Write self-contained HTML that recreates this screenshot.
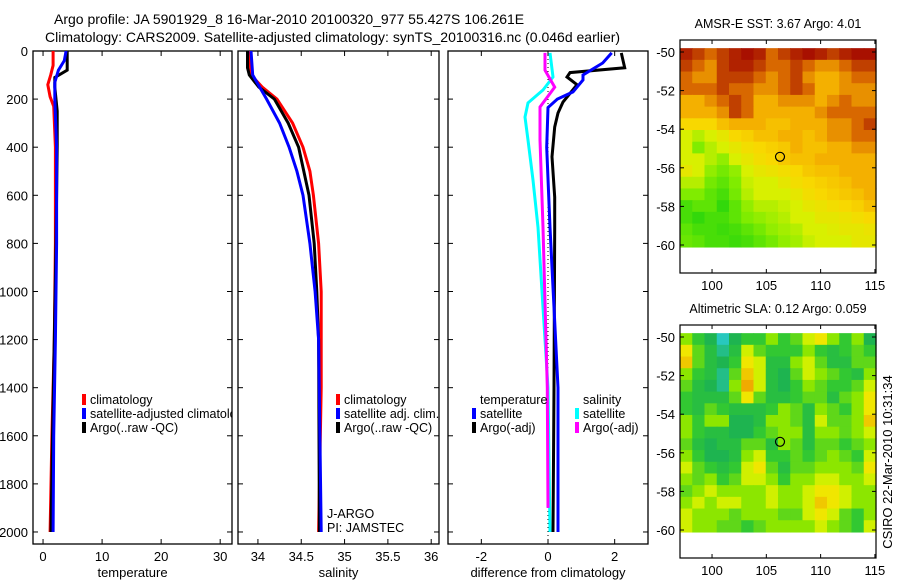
<!DOCTYPE html>
<html><head><meta charset="utf-8"><style>
body{margin:0;background:#fff;width:900px;height:580px;overflow:hidden}
svg{display:block;font-family:"Liberation Sans",sans-serif}
</style></head><body>
<svg id="c" width="900" height="580" xmlns="http://www.w3.org/2000/svg">
<text x="54" y="24" font-size="14">Argo profile: JA 5901929_8 16-Mar-2010 20100320_977 55.427S 106.261E</text>
<text x="45" y="42" font-size="14">Climatology: CARS2009. Satellite-adjusted climatology: synTS_20100316.nc (0.046d earlier)</text>
<g id="g"></g>
</svg>
<script>
// ---- profile data (depth in m) ----
const tClimDepth=[0,60,100,140,190,230,400,800,1200,1600,2000];
const tClim=[1.7,1.7,1.3,0.8,1.2,1.8,2.1,2.1,1.9,1.5,1.2];
const tSatDepth=[0,40,80,130,200,400,800,1200,1600,2000];
const tSat=[3.9,3.6,2.6,2.0,2.0,2.3,2.3,2.1,1.8,1.7];
const tArgoDepth=[0,80,110,150,250,400,800,1200,1600,2000];
const tArgo=[4.1,4.1,2.0,2.0,2.4,2.4,2.2,1.9,1.6,1.35];
const sClimDepth=[0,100,150,200,300,400,500,600,800,1000,1400,2000];
const sClim=[33.9,33.92,34.05,34.22,34.4,34.52,34.6,34.64,34.7,34.73,34.73,34.7];
const sSatDepth=[0,100,200,300,400,500,600,800,1000,1200,2000];
const sSat=[33.92,33.94,34.1,34.25,34.36,34.45,34.52,34.6,34.66,34.7,34.73];
const sArgoDepth=[0,70,100,150,200,300,400,600,800,1000,1200,2000];
const sArgo=[33.88,33.88,33.9,34.01,34.19,34.35,34.47,34.59,34.65,34.68,34.7,34.71];
const dTSatDepth=[8,50,100,120,170,200,235,400,733,1400,2000];
const dTSat=[1.91,1.64,1.05,1.05,0.75,0.28,0.0,-0.04,0.06,0.3,0.3];
const dTArgoDepth=[8,70,90,108,140,212,258,316,440,608,733,1400,2000];
const dTArgo=[2.2,2.3,0.66,0.57,0.87,0.45,0.3,0.2,0.12,0.2,0.2,0.18,0.15];
const dSSatDepth=[8,108,162,216,275,370,537,733,1400,2000];
const dSSat=[0.06,0.15,-0.15,-0.6,-0.69,-0.6,-0.45,-0.3,0.0,0.06];
const dSArgoDepth=[8,80,150,233,370,733,1400,1900];
const dSArgo=[-0.09,-0.09,0.2,-0.24,-0.24,-0.15,-0.02,0.0];
const depthTicks=[0,200,400,600,800,1000,1200,1400,1600,1800,2000];
const tTicks=[0,10,20,30];
const sTicks=[34,34.5,35,35.5,36];
const dTicks=[-2,0,2];
// ---- map data ----
const lonStart=97.05, lonStep=(115.1-97.05)/16, latStart=-49.8, latStep=-(60.1-49.8)/17;
const latTicks=[-50,-52,-54,-56,-58,-60];
const lonTicks=[100,105,110,115];
const argoLon=106.26, argoLat=-55.43;
const sst=[
[6,5.5,5,5.5,6,6.5,6,5,5.5,6,6.5,6,5.5,6,6.5,6.5],
[5.5,5,4.5,5.5,6,6,5.5,5,5,5.5,5,4.5,4.5,5,5.5,5.5],
[5,4.5,4.5,5.5,5.5,5.5,5,4.5,5,5.5,4.5,4,4,4.5,5,5],
[5,5,5,5.5,5,5,4.5,4.5,5,5.5,5,4,4,4.5,4.5,4.5],
[4,4,4.5,5,5.5,5,4,4,4.5,4.5,4.5,4,4.5,5,4.5,4.5],
[4,4,4,4.5,5.5,5,4,4,4,4,4,4.5,5,5,5,5],
[3.5,3.5,3.5,3.8,4,4,4,3.8,3.8,4,4,4,4.5,4.5,5,5.5],
[3,2.8,3,3.2,3.5,3.6,3.8,3.8,4,4,3.8,4,4.5,4.5,5,5],
[3,2.5,2.8,3,3.2,3.4,3.5,3.6,3.7,4,3.8,3.8,4,4,4.5,4.5],
[3,3,2.8,2.6,3,3.2,3.4,3.5,3.7,3.8,3.8,4,4,4,4,4],
[3.2,3,2.6,2.4,2.6,3,3.2,3.3,3.4,3.5,3.7,3.8,3.8,4,4,4],
[2.8,2.8,2.4,2.2,2.5,2.9,3,3,3.2,3.4,3.5,3.6,3.7,3.8,4,4],
[2.5,2.5,2.2,2,2.4,2.8,3,3,3,3.2,3.4,3.5,3.6,3.7,3.8,4],
[2,2.2,2.2,1.8,2.2,2.6,2.8,2.8,2.9,3,3.2,3.3,3.4,3.5,3.6,3.8],
[2,1.8,2,2,2.2,2.5,2.6,2.7,2.8,3,3,3.2,3.2,3.3,3.4,3.5],
[2.2,2,2,1.9,2,2.2,2.4,2.6,2.7,2.8,3,3,3.1,3.2,3.2,3.3],
[2.3,2.2,2,2,1.9,2,2.2,2.4,2.6,2.7,2.9,3,3,3,3.2,3.2]];
const sla=[
[0.1,0,-0.1,-0.2,-0.1,0,0,0.1,0,0.05,0.15,0.2,0.1,0,0.1,-0.1],
[0.2,0.05,-0.05,-0.15,-0.05,0.15,0.05,0,0,0,0.1,0,-0.05,0,0.05,0],
[0.25,0.05,-0.05,-0.1,0,0.2,0.15,-0.05,-0.05,0.1,0.15,0.05,-0.05,-0.05,0.05,0.05],
[0.1,0,-0.05,-0.15,0.05,0.25,0.15,-0.05,-0.1,0.05,0.15,0.1,0.05,0,-0.05,0.1],
[0.05,-0.05,-0.1,-0.15,0.1,0.3,0.15,-0.05,-0.1,0,0.1,0.05,0,0,0.05,0.15],
[0,-0.05,-0.05,-0.05,0.05,0.2,0.05,-0.05,-0.05,0,0.05,0.05,-0.05,0.05,0.1,0.2],
[0,-0.05,0.05,0,-0.05,-0.05,-0.05,0,0.1,0.05,-0.05,0.1,0.05,0,0.1,0.2],
[0.1,0,0.1,0.1,-0.1,-0.1,-0.05,0.1,0.1,0.05,-0.05,0.15,0.05,0.05,0.1,0.25],
[0.1,0,-0.05,-0.05,-0.1,-0.1,0,0.05,0.1,0.1,-0.05,0.1,0.1,0.05,0.1,0.15],
[0.05,-0.05,-0.1,-0.05,-0.05,0.05,0.05,-0.05,0.1,0.05,-0.05,0.05,0.05,0,0.05,0.1],
[0.1,0,-0.1,-0.1,-0.05,0.1,0.15,0,0,0.05,0,0.05,0.1,0.05,0,0.15],
[0.15,0.05,0,-0.05,0,0.15,0.2,0.05,-0.05,0.05,0.05,0.1,0.1,0.1,0.05,0.2],
[0.1,0.05,0.1,0,0.05,0.15,0.15,0.1,0,0.1,0.1,0.15,0.15,0.1,0.1,0.15],
[0.05,0.1,0.15,0.1,0.1,0.1,0.1,0.15,0.1,0.1,0.15,0.2,0.2,0.15,0.1,0.1],
[0.1,0.15,0.1,0.15,0.15,0.1,0.1,0.15,0.1,0.1,0.15,0.25,0.2,0.15,0.1,0.1],
[0.15,0.1,0.1,0.1,0.05,0.1,0.1,0.1,0.05,0.05,0.15,0.2,0.15,0.05,0,0.1],
[0.15,0.1,0.1,0.05,0.05,0,0.05,0.1,0.1,0.1,0.1,0.15,0.1,0.05,0,0.15]];

const NS='http://www.w3.org/2000/svg';
const G=document.getElementById('g');
function el(tag,attrs,parent){const e=document.createElementNS(NS,tag);for(const k in attrs)e.setAttribute(k,attrs[k]);(parent||G).appendChild(e);return e;}
function txt(x,y,s,size,anchor,parent){const t=el('text',{x:x,y:y,'font-size':size,'text-anchor':anchor||'start'},parent);t.textContent=s;return t;}

const TOP=51,BOT=544,DMAX=2050;
const yD=d=>TOP+(BOT-TOP)*d/DMAX;
function panel(name,x0,x1,vmin,vmax,ticks,label,showY){
  const g=el('g',{});
  
  
  const xs=v=>x0+(x1-x0)*(v-vmin)/(vmax-vmin);
  const cp=el('clipPath',{id:'cp-'+name},g);
  el('rect',{x:x0,y:TOP,width:x1-x0,height:BOT-TOP},cp);
  const fr=el('rect',{x:x0,y:TOP,width:x1-x0,height:BOT-TOP,fill:'none',stroke:'#000','stroke-width':1.3},g);
  
  
  ticks.forEach(v=>{const x=xs(v);
    el('line',{x1:x,x2:x,y1:BOT,y2:BOT-5,stroke:'#000'},g);
    el('line',{x1:x,x2:x,y1:TOP,y2:TOP+5,stroke:'#000'},g);
    const t=txt(x,561,String(v),13,'middle',g);
    
    
  });
  depthTicks.forEach(d=>{const y=yD(d);
    el('line',{x1:x0,x2:x0+5,y1:y,y2:y,stroke:'#000'},g);
    el('line',{x1:x1,x2:x1-5,y1:y,y2:y,stroke:'#000'},g);
    if(showY){const t=txt(28,y+5,String(d),13,'end',g);
      
      }
  });
  const lt=txt((x0+x1)/2,577,label,13,'middle',g);
  
  
  const inner=el('g',{'clip-path':'url(#cp-'+name+')'},g);
  return {g,inner,xs};
}
function line(p,vals,depths,color,name,w){
  const pts=vals.map((v,i)=>p.xs(v).toFixed(1)+','+yD(depths[i]).toFixed(1)).join(' ');
  const l=el('polyline',{points:pts,fill:'none',stroke:color,'stroke-width':w||3,'stroke-linejoin':'miter'},p.inner);
  
  
}
function legend(p,x,y,items){
  items.forEach((it,i)=>{
    if(it[1]){const r=el('rect',{x:x,y:y+i*14-10,width:4,height:11,fill:it[1]},p.inner);
      
      }
    const t=txt(x+8,y+i*14,it[0],12.5,'start',p.inner);
    
    
  });
}
// temperature
const p1=panel('temperature-panel',33,232,-1.7,32,tTicks,'temperature',true);
line(p1,tClim,tClimDepth,'#f00','temp-climatology-line');
line(p1,tArgo,tArgoDepth,'#000','temp-argo-line');
line(p1,tSat,tSatDepth,'#00f','temp-satellite-line');
legend(p1,82,404,[['climatology','#f00'],['satellite-adjusted climatology','#00f'],['Argo(..raw -QC)','#000']]);
// salinity
const p2=panel('salinity-panel',238,439,33.77,36.09,sTicks,'salinity',false);
line(p2,sClim,sClimDepth,'#f00','sal-climatology-line');
line(p2,sArgo,sArgoDepth,'#000','sal-argo-line');
line(p2,sSat,sSatDepth,'#00f','sal-satellite-line');
legend(p2,336,404,[['climatology','#f00'],['satellite adj. clim.','#00f'],['Argo(..raw -QC)','#000']]);
legend(p2,319,518,[['J-ARGO',null],['PI: JAMSTEC',null]]);
// difference
const p3=panel('difference-panel',448,648,-3,3,dTicks,'difference from climatology',false);
el('line',{x1:p3.xs(0),x2:p3.xs(0),y1:TOP,y2:BOT,stroke:'#000','stroke-dasharray':'1,3'},p3.inner);
line(p3,dSSat,dSSatDepth,'#0ff','dsal-satellite-line');
line(p3,dSArgo,dSArgoDepth,'#f0f','dsal-argo-line');
line(p3,dTArgo,dTArgoDepth,'#000','dtemp-argo-line');
line(p3,dTSat,dTSatDepth,'#00f','dtemp-satellite-line');
legend(p3,472,404,[['temperature',null]]);
legend(p3,472,418,[['satellite','#00f'],['Argo(-adj)','#000']]);
legend(p3,575,404,[['salinity',null]]);
legend(p3,575,418,[['satellite','#0ff'],['Argo(-adj)','#f0f']]);

// maps
function lerpCol(stops,v){
  if(v<=stops[0][0])return stops[0][1];
  for(let i=1;i<stops.length;i++){if(v<=stops[i][0]){const a=stops[i-1],b=stops[i],t=(v-a[0])/(b[0]-a[0]);
    return 'rgb('+[0,1,2].map(k=>Math.round(a[1][k]+(b[1][k]-a[1][k])*t)).join(',')+')';}}
  const c=stops[stops.length-1][1];return 'rgb('+c.join(',')+')';
}
function toRgb(c){return typeof c==='string'?c:'rgb('+c.join(',')+')';}
const sstStops=[[1.5,[16,208,16]],[2.5,[128,236,0]],[3,[216,240,0]],[3.5,[248,216,0]],[4,[244,176,0]],[4.5,[232,144,0]],[5,[216,104,0]],[5.5,[192,64,0]],[6.3,[168,16,0]]];
const slaStops=[[-0.2,[40,200,190]],[-0.1,[30,180,80]],[0,[50,200,50]],[0.1,[140,230,0]],[0.15,[208,240,0]],[0.2,[240,230,0]],[0.3,[240,170,0]]];
function map(name,top,title,grid,stops){
  const g=el('g',{});
  
  
  const L=680,R=876,H=233;
  const xl=lon=>L+(lon-97.05)*(R-L)/(115.1-97.05);
  const yl=lat=>top+12+(-50-lat)*19.3;
  grid.forEach((row,i)=>row.forEach((v,j)=>{
    const x=xl(lonStart+j*lonStep),y=yl(latStart+i*latStep);
    const r=el('rect',{x:x.toFixed(2),y:y.toFixed(2),width:(xl(lonStart+(j+1)*lonStep)-x+0.6).toFixed(2),height:(yl(latStart+(i+1)*latStep)-y+0.6).toFixed(2),fill:toRgb(lerpCol(stops,v))},g);
    
    
  }));
  el('rect',{x:L,y:top,width:R-L,height:H,fill:'none',stroke:'#000','stroke-width':1.2},g);
  latTicks.forEach(v=>{const y=yl(v);
    el('line',{x1:L,x2:L+4,y1:y,y2:y,stroke:'#000'},g);
    el('line',{x1:R,x2:R-4,y1:y,y2:y,stroke:'#000'},g);
    const t=txt(L-5,y+5,String(v),13,'end',g);
    
    });
  lonTicks.forEach(v=>{const x=xl(v);
    el('line',{x1:x,x2:x,y1:top+H,y2:top+H-4,stroke:'#000'},g);
    el('line',{x1:x,x2:x,y1:top,y2:top+4,stroke:'#000'},g);
    const t=txt(x,top+H+17,String(v),13,'middle',g);
    
    });
  const c=el('circle',{cx:xl(argoLon),cy:yl(argoLat),r:4.5,fill:'none',stroke:'#000','stroke-width':1.2},g);
  
  
  const t=txt(778,top-12,title,12.5,'middle',g);
  
  
}
map('sst-map',40,'AMSR-E SST: 3.67 Argo: 4.01',sst,sstStops);
map('sla-map',325,'Altimetric SLA: 0.12 Argo: 0.059',sla,slaStops);
const cs=txt(0,0,'CSIRO 22-Mar-2010 10:31:34',13,'middle');
cs.setAttribute('transform','translate(892,462) rotate(-90)');


</script>
</body></html>
